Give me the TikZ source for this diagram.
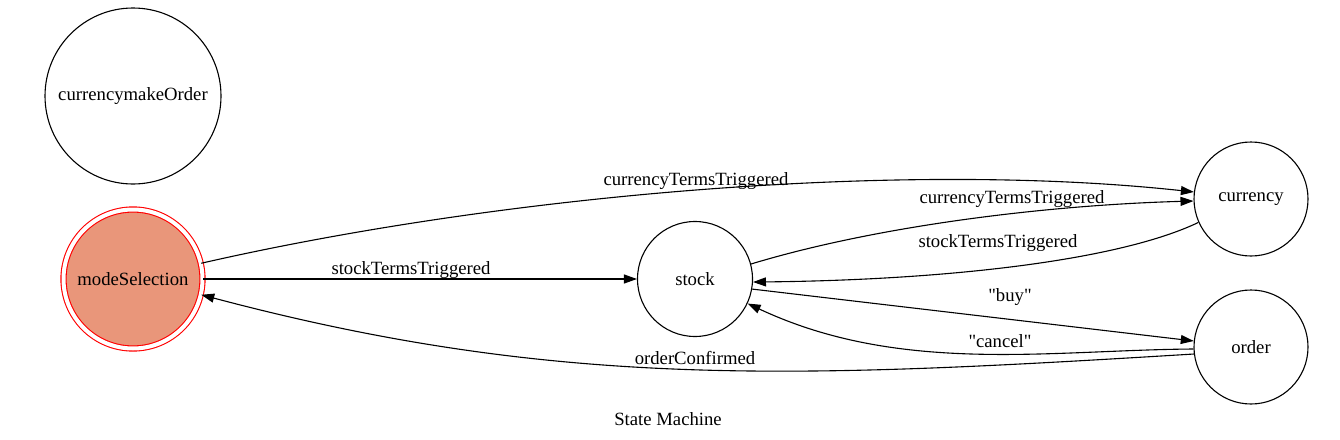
\documentclass[tikz,border=0pt]{standalone}
\usepackage{fontspec}
\setmainfont{Liberation Serif}
\newfontfamily\plainserif{Liberation Serif}
\usetikzlibrary{arrows.meta}
\definecolor{salmonfill}{HTML}{E9967A}
\tikzset{
  state/.style={circle, draw=black, line width=1.1pt, inner sep=0pt, minimum size=114pt, font=\fontsize{18.7}{22}\selectfont},
  initstate/.style={state, draw=red, fill=salmonfill, double=white, double distance=4pt, line width=1.1pt, minimum size=139pt},
  edgelabel/.style={font=\plainserif\fontsize{18.7}{22}\selectfont, inner sep=0pt},
  trans/.style={draw=black, line width=1.1pt, -{Triangle[length=13pt,width=9pt]}},
}
\begin{document}
\begin{tikzpicture}[x=1pt,y=-1pt]
\useasboundingbox (0,0) rectangle (1340,439);
\node[state, minimum size=176pt] (cmo) at (133,96) {currencymakeOrder};
\node[initstate] (ms) at (133,279) {modeSelection};
\node[state, minimum size=115pt] (stock) at (695,279) {stock};
\node[state] (currency) at (1251,199) {currency};
\node[state] (order) at (1251,347) {order};

\draw[trans] (ms.13) .. controls (500,195) and (900,160) .. (currency.173);
\draw[trans] (ms.0) -- (stock.180);
\draw[trans] (stock.15) .. controls (880,225) and (1050,205) .. (currency.182);
\draw[trans] (currency.204) .. controls (1120,260) and (950,280) .. (stock.-3);
\draw[trans] (stock.-10) -- (order.174);
\draw[trans] (order.182) .. controls (1050,350) and (900,375) .. (stock.-25);
\draw[trans] (order.187) .. controls (800,378) and (560,390) .. (ms.-13);

\node[edgelabel] (l1) at (696,181) {currencyTermsTriggered};
\node[edgelabel] (l2) at (411,270) {stockTermsTriggered};
\node[edgelabel] (l3) at (1012,199) {currencyTermsTriggered};
\node[edgelabel] (l4) at (998,243) {stockTermsTriggered};
\node[edgelabel] (l5) at (1010,297) {"buy"};
\node[edgelabel] (l6) at (1000,341) {"cancel"};
\node[edgelabel] (l7) at (695,358) {orderConfirmed};
\node[edgelabel] (title) at (668,419) {State Machine};
\end{tikzpicture}
\end{document}
